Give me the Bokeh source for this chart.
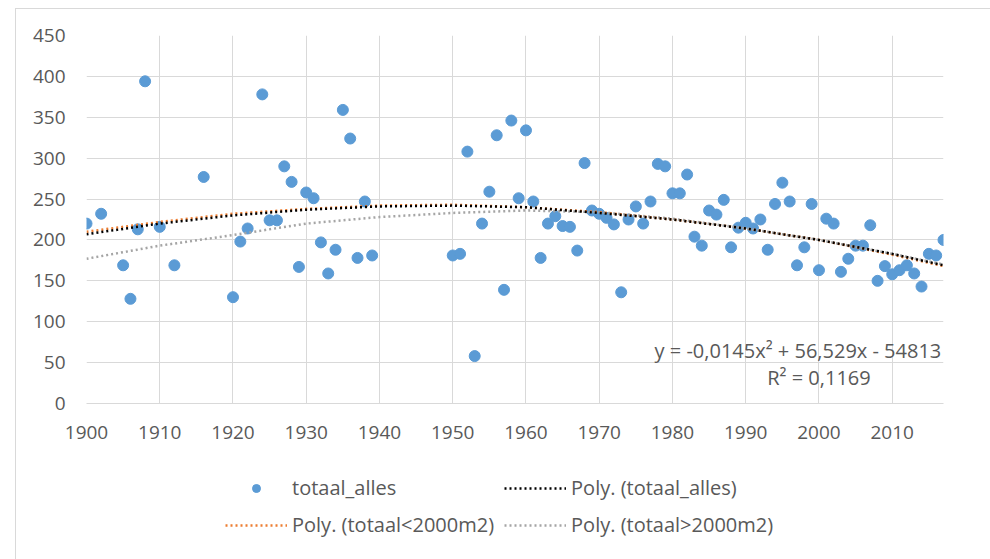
from bokeh.plotting import figure
from bokeh.models import Range1d, FixedTicker, Legend, LegendItem, Label
from bokeh.layouts import column
from bokeh.embed import file_html
from bokeh.resources import INLINE

# ---- data ----
years = [1900, 1902, 1905, 1906, 1907, 1908, 1910, 1912, 1916,
         1920, 1921, 1922, 1924, 1925, 1926, 1927, 1928, 1929,
         1930, 1931, 1932, 1933, 1934, 1935, 1936, 1937, 1938, 1939,
         1950, 1951, 1952, 1953, 1954, 1955, 1956, 1957, 1958, 1959,
         1960, 1961, 1962, 1963, 1964, 1965, 1966, 1967, 1968, 1969,
         1970, 1971, 1972, 1973, 1974, 1975, 1976, 1977, 1978, 1979,
         1980, 1981, 1982, 1983, 1984, 1985, 1986, 1987, 1988, 1989,
         1990, 1991, 1992, 1993, 1994, 1995, 1996, 1997, 1998, 1999,
         2000, 2001, 2002, 2003, 2004, 2005, 2006, 2007, 2008, 2009,
         2010, 2011, 2012, 2013, 2014, 2015, 2016, 2017]
totaal_alles = [220, 232, 169, 128, 213, 394, 216, 169, 277,
                130, 198, 214, 378, 224, 224, 290, 271, 167,
                258, 251, 197, 159, 188, 359, 324, 178, 247, 181,
                181, 183, 308, 58, 220, 259, 328, 139, 346, 251,
                334, 247, 178, 220, 229, 217, 216, 187, 294, 236,
                232, 227, 219, 136, 225, 241, 220, 247, 293, 290,
                257, 257, 280, 204, 193, 236, 231, 249, 191, 215,
                221, 214, 225, 188, 244, 270, 247, 169, 191, 244,
                163, 226, 220, 161, 177, 193, 193, 218, 150, 168,
                158, 163, 169, 159, 143, 183, 181, 200]

trend_years = [1900, 1910, 1920, 1930, 1940, 1950, 1960, 1970, 1980, 1990, 2000, 2010, 2017]
trend_alles = [207, 220, 230, 237, 241, 242, 240, 233, 225, 214, 200, 183, 169]
trend_small = [210, 222, 232, 238, 242, 243, 240, 234, 225, 214, 200, 182, 168]
trend_large = [177, 193, 206, 220, 228, 233, 236, 234, 226, 214, 200, 183, 170]

x_ticks = [1900, 1910, 1920, 1930, 1940, 1950, 1960, 1970, 1980, 1990, 2000, 2010]
y_ticks = [0, 50, 100, 150, 200, 250, 300, 350, 400, 450]

label_points = "totaal_alles"
label_alles = "Poly. (totaal_alles)"
label_small = "Poly. (totaal<2000m2)"
label_large = "Poly. (totaal>2000m2)"
equation_text = "y = -0,0145x\u00b2 + 56,529x - 54813"
r2_text = "R\u00b2 = 0,1169"

FONT = "Open Sans"
TXT = "#595959"
GRID = "#d9d9d9"
BLUE = "#5b9bd5"
ORANGE = "#ed7d31"
GREY = "#a5a5a5"
BLACK = "#000000"

# ---------------- main chart ----------------
p = figure(width=974, height=451, output_backend="svg", toolbar_location=None,
           x_range=Range1d(1900, 2017), y_range=Range1d(0, 450),
           min_border_left=70, min_border_right=47, min_border_top=26,
           min_border_bottom=57)
p.outline_line_color = None
p.background_fill_color = "white"
p.border_fill_color = "white"

for ax in (p.xaxis[0], p.yaxis[0]):
    ax.major_tick_line_color = None
    ax.minor_tick_line_color = None
    ax.major_label_text_font = FONT
    ax.major_label_text_font_size = "19px"
    ax.major_label_text_color = TXT
p.xaxis.ticker = FixedTicker(ticks=x_ticks)
p.yaxis.ticker = FixedTicker(ticks=y_ticks)
p.xaxis.axis_line_color = GRID
p.yaxis.axis_line_color = None
p.xaxis.major_label_standoff = 16
p.yaxis.major_label_standoff = 15

p.xgrid.ticker = FixedTicker(ticks=x_ticks)
p.ygrid.ticker = FixedTicker(ticks=y_ticks)
p.xgrid.grid_line_color = GRID
p.ygrid.grid_line_color = GRID

p.scatter(years, totaal_alles, size=11, color=BLUE, line_color=BLUE)
p.line(trend_years, trend_large, line_color=GREY, line_width=2.5, line_dash="2 3")
p.line(trend_years, trend_small, line_color=ORANGE, line_width=2.5, line_dash="2 3")
p.line(trend_years, trend_alles, line_color=BLACK, line_width=2.5, line_dash="2 3")

p.add_layout(Label(x=2016.7, y=65, text=equation_text, text_align="right",
                   text_baseline="middle", text_font=FONT, text_font_size="20px",
                   text_color=TXT))
p.add_layout(Label(x=2000, y=32, text=r2_text, text_align="center",
                   text_baseline="middle", text_font=FONT, text_font_size="20px",
                   text_color=TXT))

# ---------------- legend strip ----------------
# The strip's ranges exclude the data, so its renderers only supply legend glyphs.
lf = figure(width=974, height=99, output_backend="svg", toolbar_location=None,
            x_range=Range1d(0, 1), y_range=Range1d(0, 1),
            min_border_left=70, min_border_right=47, min_border_top=0,
            min_border_bottom=0)
lf.axis.visible = False
lf.grid.visible = False
lf.outline_line_color = None
lf.background_fill_color = "white"
lf.border_fill_color = "white"

r_pts = lf.scatter(years, totaal_alles, size=11, color=BLUE, line_color=BLUE)
r_all = lf.line(trend_years, trend_alles, line_color=BLACK, line_width=2.5, line_dash="2 3")
r_sml = lf.line(trend_years, trend_small, line_color=ORANGE, line_width=2.5, line_dash="2 3")
r_lrg = lf.line(trend_years, trend_large, line_color=GREY, line_width=2.5, line_dash="2 3")

legend = Legend(items=[LegendItem(label=label_points, renderers=[r_pts]),
                       LegendItem(label=label_alles, renderers=[r_all]),
                       LegendItem(label=label_small, renderers=[r_sml]),
                       LegendItem(label=label_large, renderers=[r_lrg])],
                orientation="horizontal", ncols=2, location=(139, 21),
                glyph_width=62, glyph_height=20, label_height=20,
                label_standoff=5, spacing=10, padding=0, margin=0,
                border_line_color=None, background_fill_alpha=0,
                label_text_font=FONT, label_text_font_size="20px",
                label_text_color=TXT)
lf.add_layout(legend, "center")

layout = column(p, lf, spacing=0,
                styles={"margin-left": "15px", "margin-top": "8px",
                        "border-left": "1px solid #d9d9d9",
                        "border-top": "1px solid #d9d9d9"})

open("out.html", "w").write(file_html(layout, INLINE))
